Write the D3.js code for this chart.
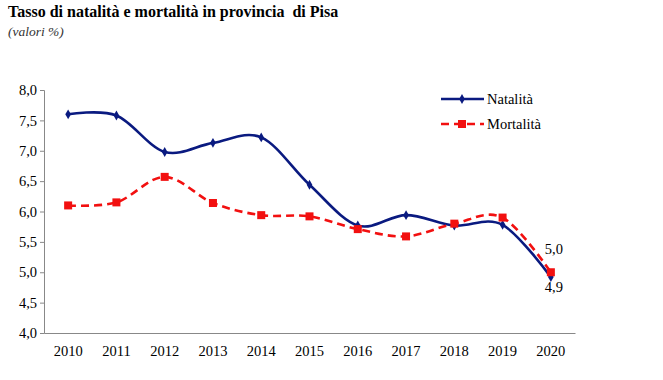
<!DOCTYPE html>
<html><head><meta charset="utf-8">
<script src="https://cdn.jsdelivr.net/npm/d3@7"></script>
<style>body{margin:0;background:#fff}svg{display:block}</style>
</head><body><svg id="c" width="663" height="380"></svg>
<script>
const years = ["2010","2011","2012","2013","2014","2015","2016","2017","2018","2019","2020"];
const natalita = [7.60,7.58,6.98,7.13,7.22,6.44,5.77,5.94,5.77,5.78,4.92];
const mortalita = [6.10,6.15,6.57,6.14,5.94,5.92,5.71,5.59,5.80,5.90,5.00];
const yTicks = [4.0,4.5,5.0,5.5,6.0,6.5,7.0,7.5,8.0];
const seriesNames = ["Natalità","Mortalità"];
const lastLabels = ["4,9","5,0"];

const FONT = '"Liberation Serif"';
const svg = d3.select("#c");
const x = d3.scaleBand().domain(years).range([44,575]);
const y = d3.scaleLinear().domain([4,8]).range([333,90]);
const fmt = v => v.toFixed(1).replace(".",",");

svg.append("text").attr("x",8).attr("y",17).style("font-family",FONT).attr("font-size",16).attr("font-weight","bold").text("Tasso di natalità e mortalità in provincia \u00a0di Pisa");
svg.append("text").attr("x",8).attr("y",36).style("font-family",FONT).attr("font-size",13.5).attr("font-style","italic").attr("fill","#333").text("(valori %)");

const ya = svg.append("g").attr("transform","translate(44,0)").call(d3.axisLeft(y).tickValues(yTicks).tickFormat(fmt).tickSize(4).tickPadding(3));
ya.select(".domain").attr("stroke","#888");
ya.selectAll(".tick line").attr("stroke","#888");
ya.selectAll("text").attr("font-size",14.5).attr("fill","#000").style("font-family",FONT);

const xa = svg.append("g").attr("transform","translate(0,333)").call(d3.axisBottom(x).tickSize(0).tickPadding(13));
xa.select(".domain").attr("stroke","#888");
xa.selectAll("text").attr("font-size",14.5).attr("fill","#000").style("font-family",FONT);

const cx = d => x(d) + x.bandwidth()/2;
const line = d3.line().x((d,i)=>cx(years[i])).y(d=>y(d)).curve(d3.curveCardinal.tension(0));

svg.append("path").datum(natalita).attr("d",line).attr("fill","none").attr("stroke","#0a1a80").attr("stroke-width",2.6);
svg.append("path").datum(mortalita).attr("d",line).attr("fill","none").attr("stroke","#f21010").attr("stroke-width",2.6).attr("stroke-dasharray","8,5");

const diamond = d3.symbol().type(d3.symbolDiamond).size(28);
svg.append("g").selectAll("path").data(natalita).join("path")
  .attr("transform",(d,i)=>`translate(${cx(years[i])},${y(d)})`).attr("d",diamond).attr("fill","#0a1a80");
svg.append("g").selectAll("rect").data(mortalita).join("rect")
  .attr("x",(d,i)=>cx(years[i])-4).attr("y",d=>y(d)-4).attr("width",8).attr("height",8).attr("fill","#f21010");

const lx = cx(years[years.length-1]);
svg.append("text").attr("x",lx+3).attr("y",y(natalita[10])+15).attr("text-anchor","middle").attr("font-size",14.5).style("font-family",FONT).text(lastLabels[0]);
svg.append("text").attr("x",lx+3).attr("y",y(mortalita[10])-18).attr("text-anchor","middle").attr("font-size",14.5).style("font-family",FONT).text(lastLabels[1]);

const lg = svg.append("g");
lg.append("line").attr("x1",441).attr("x2",484).attr("y1",99).attr("y2",99).attr("stroke","#0a1a80").attr("stroke-width",2.6);
lg.append("path").attr("transform","translate(462,99)").attr("d",diamond).attr("fill","#0a1a80");
lg.append("text").attr("x",487).attr("y",104).attr("font-size",14.5).style("font-family",FONT).text(seriesNames[0]);
lg.append("line").attr("x1",441).attr("x2",484).attr("y1",124).attr("y2",124).attr("stroke","#f21010").attr("stroke-width",2.6).attr("stroke-dasharray","8,5");
lg.append("rect").attr("x",458).attr("y",120).attr("width",8).attr("height",8).attr("fill","#f21010");
lg.append("text").attr("x",487).attr("y",129).attr("font-size",14.5).style("font-family",FONT).text(seriesNames[1]);
</script></body></html>
